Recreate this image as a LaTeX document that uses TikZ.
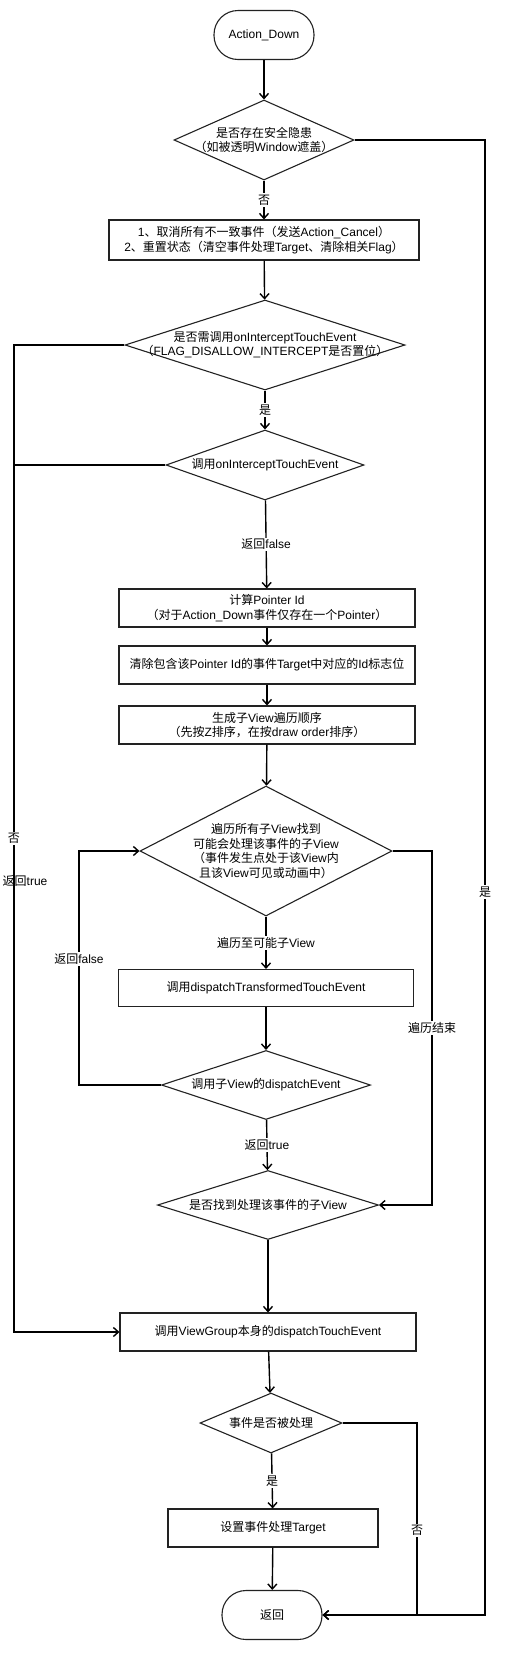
\documentclass[tikz,border=0pt]{standalone}
\usepackage{fontspec}
\setmainfont{Liberation Sans}
\newfontfamily\cjkfont{Noto Sans CJK SC}
\newfontfamily\latfont{Liberation Sans}
\usetikzlibrary{shapes.geometric,arrows.meta}
\XeTeXinterchartokenstate=1
\newXeTeXintercharclass\cjkcls
\newcount\cjkidx
\newcommand\cjkrange[2]{\cjkidx=#1\relax
  \loop\XeTeXcharclass\cjkidx=\cjkcls
  \ifnum\cjkidx<#2\advance\cjkidx by 1\repeat}
\cjkrange{"3000}{"303F}
\cjkrange{"4E00}{"9FFF}
\cjkrange{"FF00}{"FFEF}
\XeTeXinterchartoks 0 \cjkcls = {\cjkfont}
\XeTeXinterchartoks 4095 \cjkcls = {\cjkfont}
\XeTeXinterchartoks \cjkcls 0 = {\latfont}
\XeTeXinterchartoks 4095 0 = {\latfont}
\definecolor{fcLine}{HTML}{222222}

\begin{document}
\begin{tikzpicture}[x=1pt,y=-1pt,font=\fontsize{12}{14.5}\selectfont,
  term/.style={draw=fcLine,line width=1.1pt,rounded corners=24pt,minimum width=100pt,minimum height=49pt},
  proc/.style={draw=fcLine,line width=1.1pt,align=center,minimum width=#1,minimum height=38pt},
  proc/.default=296pt,
  dec/.style={draw=fcLine,diamond,inner sep=0pt,line width=1.1pt,label={[align=center]center:#1}},
  arr/.style={draw,line width=1.4pt,-{Straight Barb[length=5pt,width=9pt]}},
  lbl/.style={fill=white,inner sep=1.5pt}]
  \useasboundingbox (0,0) rectangle (511,1660);
  \node[term] (start) at (264,35) {Action\_Down};
  \node[dec={是否存在安全隐患\\（如被透明Window遮盖）},minimum width=180pt,minimum height=80pt] (q1) at (264,140) {};
  \node[proc=310pt,minimum height=40pt] (b1) at (264,240) {1、取消所有不一致事件（发送Action\_Cancel）\\2、重置状态（清空事件处理Target、清除相关Flag）};
  \node[dec={是否需调用onInterceptTouchEvent\\（FLAG\_DISALLOW\_INTERCEPT是否置位）},minimum width=280pt,minimum height=90pt] (q2) at (265,345) {};
  \node[dec={调用onInterceptTouchEvent},minimum width=198pt,minimum height=70pt] (q3) at (265,465) {};
  \node[proc] (b2) at (267,608) {计算Pointer Id\\（对于Action\_Down事件仅存在一个Pointer）};
  \node[proc] (b3) at (267,665) {清除包含该Pointer Id的事件Target中对应的Id标志位};
  \node[proc] (b4) at (267,725) {生成子View遍历顺序\\（先按Z排序，在按draw order排序）};
  \node[dec={遍历所有子View找到\\可能会处理该事件的子View\\（事件发生点处于该View内\\且该View可见或动画中）},minimum width=252pt,minimum height=130pt] (q4) at (266,851) {};
  \node[proc=295pt,minimum height=37pt] (b5) at (266,988) {调用dispatchTransformedTouchEvent};
  \node[dec={调用子View的dispatchEvent},minimum width=209pt,minimum height=69pt] (q5) at (266,1085) {};
  \node[dec={是否找到处理该事件的子View},minimum width=221pt,minimum height=69pt] (q6) at (268,1205) {};
  \node[proc] (b6) at (268,1332) {调用ViewGroup本身的dispatchTouchEvent};
  \node[dec={事件是否被处理},minimum width=142pt,minimum height=60pt] (q7) at (271,1423) {};
  \node[proc=210pt] (b7) at (273,1528) {设置事件处理Target};
  \node[term] (end) at (272,1615) {返回};
  \coordinate (lp) at (79,851);
  \coordinate (rr) at (432,1205);
  \coordinate (ll) at (14,1332);
  \coordinate (rx) at (485,1615);
  \coordinate (ry) at (417,1615);
  \draw[arr] (start) -- (q1);
  \draw[arr] (q1) -- node[lbl] {否} (b1);
  \draw[arr] (b1) -- (q2);
  \draw[arr] (q2) -- node[lbl] {是} (q3);
  \draw[arr] (q3) -- node[lbl] {返回false} (b2);
  \draw[arr] (b2) -- (b3);
  \draw[arr] (b3) -- (b4);
  \draw[arr] (b4) -- (q4);
  \draw[arr] (q4) -- node[lbl] {遍历至可能子View} (b5);
  \draw[arr] (b5) -- (q5);
  \draw[arr] (q5) -- node[lbl] {返回true} (q6);
  \draw[arr] (q6) -- (b6);
  \draw[arr] (b6) -- (q7);
  \draw[arr] (q7) -- node[lbl] {是} (b7);
  \draw[arr] (b7) -- (end);
  \draw[arr] (q5.west) -| node[lbl,pos=0.77] {返回false} (lp) -- (q4.west);
  \draw[arr] (q4.east) -| node[lbl,pos=0.75] {遍历结束} (rr) -- (q6.east);
  \draw[line width=1.4pt] (q3.west) -| node[lbl,pos=0.74,anchor=west,xshift=-13.5pt] {返回true} (ll);
  \draw[arr] (q2.west) -| node[lbl,pos=0.75] {否} (ll) -- (b6.west);
  \draw[arr] (q7.east) -| node[lbl,pos=0.78] {否} (ry) -- (end.east);
  \draw[arr] (q1.east) -| node[lbl,pos=0.755] {是} (rx) -- (end.east);
\end{tikzpicture}
\end{document}
